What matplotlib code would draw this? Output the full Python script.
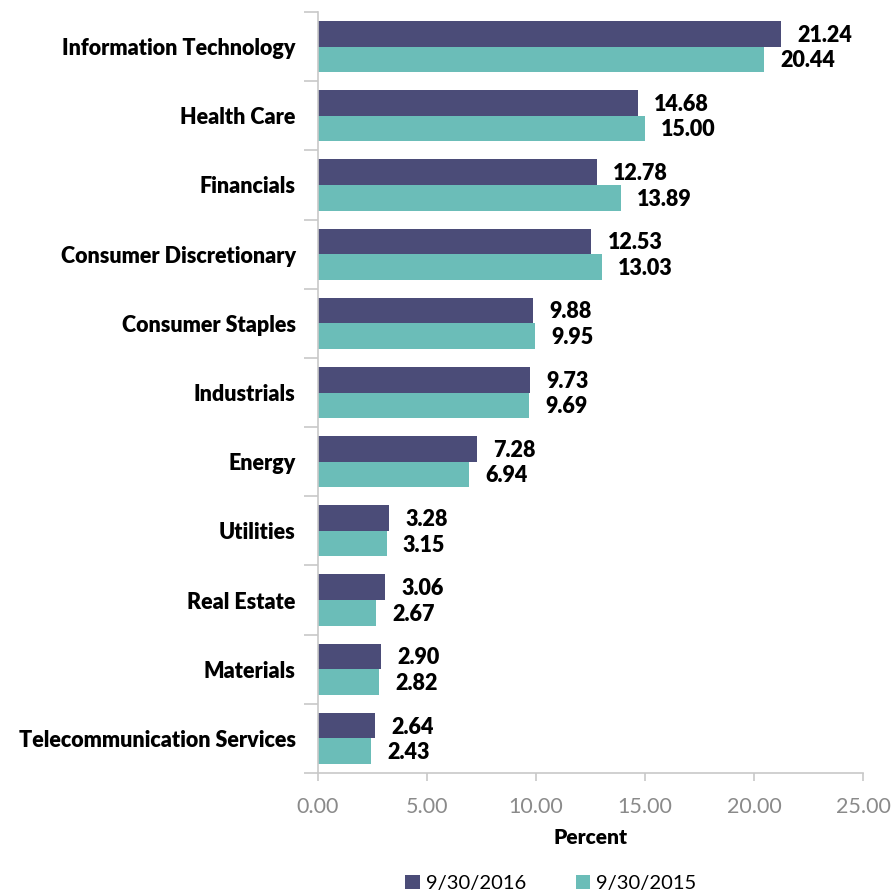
import matplotlib.pyplot as plt
import numpy as np

plt.rcParams['font.family'] = ['Lato', 'DejaVu Sans']

categories = ["Information Technology", "Health Care", "Financials", "Consumer Discretionary",
              "Consumer Staples", "Industrials", "Energy", "Utilities", "Real Estate",
              "Materials", "Telecommunication Services"]
vals_2016 = [21.24, 14.68, 12.78, 12.53, 9.88, 9.73, 7.28, 3.28, 3.06, 2.90, 2.64]
vals_2015 = [20.44, 15.00, 13.89, 13.03, 9.95, 9.69, 6.94, 3.15, 2.67, 2.82, 2.43]
series_labels = ["9/30/2016", "9/30/2015"]
xticks = [0, 5, 10, 15, 20, 25]

C_DARK = "#4b4c78"
C_TEAL = "#6bbdb8"
GRID = "#c8c8c8"

fig = plt.figure(figsize=(8.93, 8.94), dpi=100)
ax = fig.add_axes([0.356, 0.1353, 0.6104, 0.8513])

y = np.arange(len(categories))
h = 0.37
b1 = ax.barh(y - h / 2, vals_2016, height=h, color=C_DARK, label=series_labels[0])
b2 = ax.barh(y + h / 2, vals_2015, height=h, color=C_TEAL, label=series_labels[1])

for bars, vals in ((b1, vals_2016), (b2, vals_2015)):
    for rect, v in zip(bars, vals):
        ax.text(v + 0.75, rect.get_y() + rect.get_height() / 2 + 0.02, f"{v:.2f}",
                va="center", ha="left", fontsize=15.5, fontweight="heavy", color="black")

ax.set_ylim(len(categories) - 0.5, -0.5)
ax.set_xlim(0, 25)
ax.set_xticks(xticks)
ax.set_xticklabels([f"{t:.2f}" for t in xticks], fontsize=15.5, color="#8a8a8a")
ax.set_yticks(y)
ax.set_yticklabels(categories, fontsize=15.5, fontweight="heavy")
ax.set_yticks(np.arange(len(categories) + 1) - 0.5, minor=True)
ax.tick_params(axis="y", which="major", length=0, pad=16)
ax.tick_params(axis="y", which="minor", length=10, color=GRID, width=1.2)
ax.tick_params(axis="x", length=6, color=GRID, width=1.2, pad=11)

for s in ("top", "right"):
    ax.spines[s].set_visible(False)
for s in ("left", "bottom"):
    ax.spines[s].set_color(GRID)
    ax.spines[s].set_linewidth(1.2)

ax.set_xlabel("Percent", fontsize=15, fontweight="heavy", labelpad=8)

fig.legend(handles=[b1, b2], labels=series_labels, loc="center", bbox_to_anchor=(0.617, 0.012),
           ncol=2, frameon=False, fontsize=14.5, handlelength=0.7, handleheight=0.7,
           columnspacing=2.5, handletextpad=0.3)

fig.savefig("out.png", dpi=100)
